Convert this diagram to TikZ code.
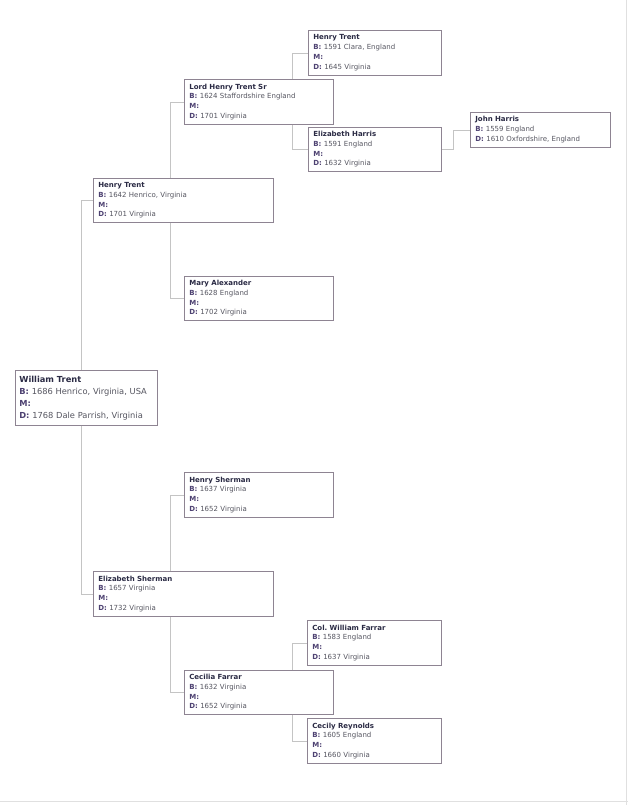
\documentclass[tikz,border=0pt]{standalone}
\usepackage{fontspec}
\setmainfont{DejaVu Sans}
\definecolor{boxline}{HTML}{8E8492}
\definecolor{namec}{HTML}{2A2A44}
\definecolor{labc}{HTML}{4E4272}
\definecolor{valc}{HTML}{555560}
\definecolor{connc}{HTML}{C4C4C4}
\newcommand{\lb}[1]{\textbf{\color{labc}#1}}
\newcommand{\nm}[1]{\textbf{\color{namec}#1}}
\frenchspacing
\tikzset{
  person/.style={draw=boxline, line width=0.7pt, fill=white, anchor=north west,
    align=left, inner xsep=5pt, inner ysep=3pt, text=valc,
    font=\fontsize{7}{9.8}\selectfont},
  bigperson/.style={person, inner xsep=4pt, font=\fontsize{8.3}{12}\selectfont},
  conn/.style={draw=connc, line width=0.6pt},
  edge/.style={draw=black!12, line width=0.8pt}
}
\begin{document}
\begin{tikzpicture}[x=1pt,y=-1pt]
\useasboundingbox[fill=white] (0,0) rectangle (628,805);
\draw[edge] (626,0) -- (626,805);
\draw[edge] (0,801) -- (628,801);

\node[person, text width=123pt, minimum height=45pt] (HT1) at (308,30)
  {\nm{Henry Trent}\\\lb{B:} 1591 Clara, England\\\lb{M:}\\\lb{D:} 1645 Virginia};
\node[person, text width=139pt, minimum height=45pt] (LHT) at (184,79)
  {\nm{Lord Henry Trent Sr}\\\lb{B:} 1624 Staffordshire England\\\lb{M:}\\\lb{D:} 1701 Virginia};
\node[person, text width=123pt, minimum height=44pt] (EH) at (308,127)
  {\nm{Elizabeth Harris}\\\lb{B:} 1591 England\\\lb{M:}\\\lb{D:} 1632 Virginia};
\node[person, text width=130pt, minimum height=35pt] (JH) at (470,112)
  {\nm{John Harris}\\\lb{B:} 1559 England\\\lb{D:} 1610 Oxfordshire, England};
\node[person, text width=170pt, minimum height=44pt] (HT2) at (93,178)
  {\nm{Henry Trent}\\\lb{B:} 1642 Henrico, Virginia\\\lb{M:}\\\lb{D:} 1701 Virginia};
\node[person, text width=139pt, minimum height=44pt] (MA) at (184,276)
  {\nm{Mary Alexander}\\\lb{B:} 1628 England\\\lb{M:}\\\lb{D:} 1702 Virginia};
\node[bigperson, text width=134pt, minimum height=55pt] (WT) at (15,370)
  {\nm{William Trent}\\\lb{B:} 1686 Henrico, Virginia, USA\\\lb{M:}\\\lb{D:} 1768 Dale Parrish, Virginia};
\node[person, text width=139pt, minimum height=45pt] (HS) at (184,472)
  {\nm{Henry Sherman}\\\lb{B:} 1637 Virginia\\\lb{M:}\\\lb{D:} 1652 Virginia};
\node[person, text width=170pt, minimum height=45pt] (ES) at (93,571)
  {\nm{Elizabeth Sherman}\\\lb{B:} 1657 Virginia\\\lb{M:}\\\lb{D:} 1732 Virginia};
\node[person, text width=124pt, minimum height=45pt] (CWF) at (307,620)
  {\nm{Col. William Farrar}\\\lb{B:} 1583 England\\\lb{M:}\\\lb{D:} 1637 Virginia};
\node[person, text width=139pt, minimum height=44pt] (CF) at (184,670)
  {\nm{Cecilia Farrar}\\\lb{B:} 1632 Virginia\\\lb{M:}\\\lb{D:} 1652 Virginia};
\node[person, text width=124pt, minimum height=45pt] (CR) at (307,718)
  {\nm{Cecily Reynolds}\\\lb{B:} 1605 England\\\lb{M:}\\\lb{D:} 1660 Virginia};

\draw[conn] (HT2.west) -| ([xshift=66pt]WT.north west);
\draw[conn] ([xshift=66pt]WT.south west) |- (ES.west);
\draw[conn] ([xshift=77pt]HT2.north west) |- (LHT.west);
\draw[conn] ([xshift=77pt]HT2.south west) |- (MA.west);
\draw[conn] ([xshift=108pt]LHT.north west) |- (HT1.west);
\draw[conn] ([xshift=108pt]LHT.south west) |- (EH.west);
\draw[conn] (EH.east) -- ++(12,0) |- (JH.west);
\draw[conn] ([xshift=77pt]ES.north west) |- (HS.west);
\draw[conn] ([xshift=77pt]ES.south west) |- (CF.west);
\draw[conn] ([xshift=108pt]CF.north west) |- (CWF.west);
\draw[conn] ([xshift=108pt]CF.south west) |- (CR.west);
\end{tikzpicture}
\end{document}
